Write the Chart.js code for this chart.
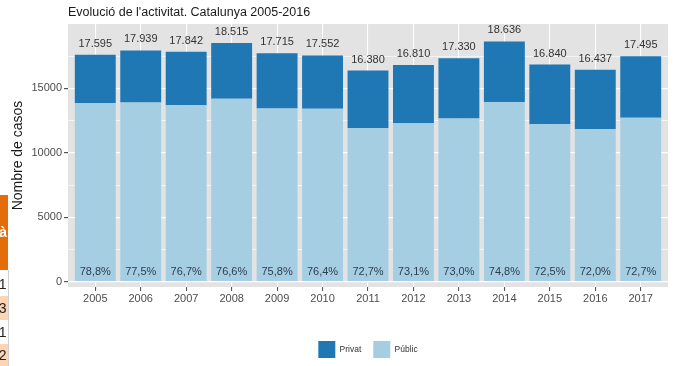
<!DOCTYPE html>
<html>
<head>
<meta charset="utf-8">
<script src="https://cdn.jsdelivr.net/npm/chart.js@4.4.1/dist/chart.umd.min.js"></script>
<style>
  html, body { margin: 0; padding: 0; background: #ffffff; }
  #wrap { width: 676px; height: 366px; position: relative; }
</style>
</head>
<body>
<div id="wrap"><canvas id="chart" width="676" height="366"></canvas></div>
<script>
// Activity per year, total cases and share handled by the public system
const years = ['2005', '2006', '2007', '2008', '2009', '2010', '2011', '2012', '2013', '2014', '2015', '2016', '2017'];
const totals = [17595, 17939, 17842, 18515, 17715, 17552, 16380, 16810, 17330, 18636, 16840, 16437, 17495];
const publicShare = [78.8, 77.5, 76.7, 76.6, 75.8, 76.4, 72.7, 73.1, 73.0, 74.8, 72.5, 72.0, 72.7];
const yMajorTicks = [0, 5000, 10000, 15000];
const yMinorTicks = [2500, 7500, 12500, 17500];

// Split each total into its public and private parts
const publicCases = totals.map((t, i) => Math.round(t * publicShare[i] / 100));
const privateCases = totals.map((t, i) => t - publicCases[i]);

const FONT = "'Liberation Sans', Arial, Helvetica, sans-serif";
Chart.defaults.font.family = FONT;

const fmtThousands = n => String(n).replace(/\B(?=(\d{3})+(?!\d))/g, '.');
const fmtPct = v => v.toFixed(1).replace('.', ',') + '%';
const tickValue = c => (c && c.tick) ? c.tick.value : NaN;
const isMajor = v => yMajorTicks.includes(v);

// Grey panel behind the plotting area
const panelBackground = {
  id: 'panelBackground',
  beforeDraw(chart) {
    const { ctx, chartArea: a } = chart;
    ctx.save();
    ctx.fillStyle = '#ffffff';
    ctx.fillRect(0, 0, chart.width, chart.height);
    ctx.fillStyle = '#e3e3e3';
    ctx.fillRect(a.left, a.top, a.right - a.left, a.bottom - a.top);
    ctx.restore();
  }
};

// Centre the legend under the panel rather than the whole canvas
const legendUnderPanel = {
  id: 'legendUnderPanel',
  afterLayout(chart) {
    const lg = chart.legend;
    if (lg) {
      lg.left = chart.chartArea.left;
      lg.right = chart.chartArea.right;
    }
  }
};

// Totals above each bar and public share at the foot of each bar
const barLabels = {
  id: 'barLabels',
  afterDatasetsDraw(chart) {
    const { ctx } = chart;
    const yScale = chart.scales.y;
    const y0 = yScale.getPixelForValue(0);
    const topMeta = chart.getDatasetMeta(1);
    ctx.save();
    ctx.textAlign = 'center';
    ctx.textBaseline = 'middle';
    ctx.font = `11px ${FONT}`;
    topMeta.data.forEach((bar, i) => {
      ctx.fillStyle = '#333333';
      ctx.fillText(fmtThousands(totals[i]), bar.x, bar.y - 11);
      ctx.fillStyle = '#2c3e50';
      ctx.fillText(fmtPct(publicShare[i]), bar.x, y0 - 10);
    });
    ctx.restore();
  }
};

// Heading aligned with the panel's left edge, plus the neighbouring table strip
const heading = {
  id: 'heading',
  afterDraw(chart) {
    const { ctx, chartArea: a } = chart;
    ctx.save();
    ctx.fillStyle = '#1a1a1a';
    ctx.font = `12.5px ${FONT}`;
    ctx.textAlign = 'left';
    ctx.textBaseline = 'middle';
    ctx.fillText("Evolució de l'activitat. Catalunya 2005-2016", a.left, 13);

    // strip of an adjacent table at the left border
    ctx.fillStyle = '#e46c0a';
    ctx.fillRect(0, 195, 8, 75);
    ctx.fillStyle = '#ffffff';
    ctx.font = `bold 14px ${FONT}`;
    ctx.textAlign = 'right';
    ctx.fillText('à', 7, 233);
    const rows = [
      { top: 272, bottom: 296, bg: '#ffffff', text: '1' },
      { top: 296, bottom: 320, bg: '#fcd5b4', text: '3' },
      { top: 320, bottom: 344, bg: '#ffffff', text: '1' },
      { top: 344, bottom: 366, bg: '#fcd5b4', text: '2' }
    ];
    ctx.font = `14px ${FONT}`;
    rows.forEach(r => {
      ctx.fillStyle = r.bg;
      ctx.fillRect(0, r.top, 8, r.bottom - r.top);
      ctx.fillStyle = '#222222';
      ctx.fillText(r.text, 6.5, (r.top + r.bottom) / 2 + 1);
    });
    ctx.strokeStyle = '#d0d0d0';
    ctx.lineWidth = 1;
    ctx.beginPath();
    ctx.moveTo(8.5, 270);
    ctx.lineTo(8.5, 366);
    ctx.stroke();
    ctx.restore();
  }
};

new Chart(document.getElementById('chart'), {
  type: 'bar',
  data: {
    datasets: [
      {
        label: 'Públic',
        data: years.map((y, i) => ({ x: i + 1, y: publicCases[i] })),
        backgroundColor: '#a6cee3',
        borderWidth: 0,
        barPercentage: 0.9,
        categoryPercentage: 1
      },
      {
        label: 'Privat',
        data: years.map((y, i) => ({ x: i + 1, y: privateCases[i] })),
        backgroundColor: '#1f78b4',
        borderWidth: 0,
        barPercentage: 0.9,
        categoryPercentage: 1
      }
    ]
  },
  options: {
    responsive: false,
    animation: false,
    devicePixelRatio: 1,
    layout: { padding: { top: 24, right: 8, bottom: -2, left: 0 } },
    plugins: {
      legend: {
        position: 'bottom',
        reverse: true,
        labels: {
          boxWidth: 17,
          boxHeight: 17,
          padding: 12,
          color: '#333333',
          font: { size: 8.5, family: FONT }
        }
      },
      tooltip: { enabled: false },
      title: { display: false }
    },
    scales: {
      x: {
        type: 'linear',
        stacked: true,
        min: 0.4,
        max: 13.6,
        offset: false,
        border: { display: false },
        grid: {
          offset: false,
          color: '#ffffff',
          lineWidth: 1.1,
          tickColor: '#555555',
          tickLength: 4
        },
        ticks: {
          autoSkip: false,
          maxRotation: 0,
          padding: 1,
          color: '#4d4d4d',
          font: { size: 11, family: FONT },
          callback: (v, i, ticks) => years[ticks[i].value - 1] || ''
        },
        afterBuildTicks: s => { s.ticks = years.map((y, i) => ({ value: i + 1 })); },
        afterFit: s => { s.height = 42; }
      },
      y: {
        stacked: true,
        min: -412,
        max: 19990,
        border: { display: false },
        grid: {
          color: '#ffffff',
          lineWidth: c => isMajor(tickValue(c)) ? 1.2 : 0.6,
          tickColor: c => isMajor(tickValue(c)) ? '#555555' : 'rgba(0,0,0,0)',
          tickLength: 4
        },
        ticks: {
          autoSkip: false,
          padding: 2,
          color: '#4d4d4d',
          font: { size: 11, family: FONT },
          callback: (v, i, ticks) => isMajor(ticks[i].value) ? String(ticks[i].value) : ''
        },
        afterBuildTicks: s => {
          s.ticks = yMajorTicks.concat(yMinorTicks).sort((a, b) => a - b).map(v => ({ value: v }));
        },
        title: {
          display: true,
          text: 'Nombre de casos',
          color: '#1a1a1a',
          font: { size: 14, family: FONT },
          padding: { top: 10, bottom: 0 }
        },
        afterFit: s => { s.width = 68; }
      }
    }
  },
  plugins: [panelBackground, legendUnderPanel, barLabels, heading]
});
</script>
</body>
</html>
